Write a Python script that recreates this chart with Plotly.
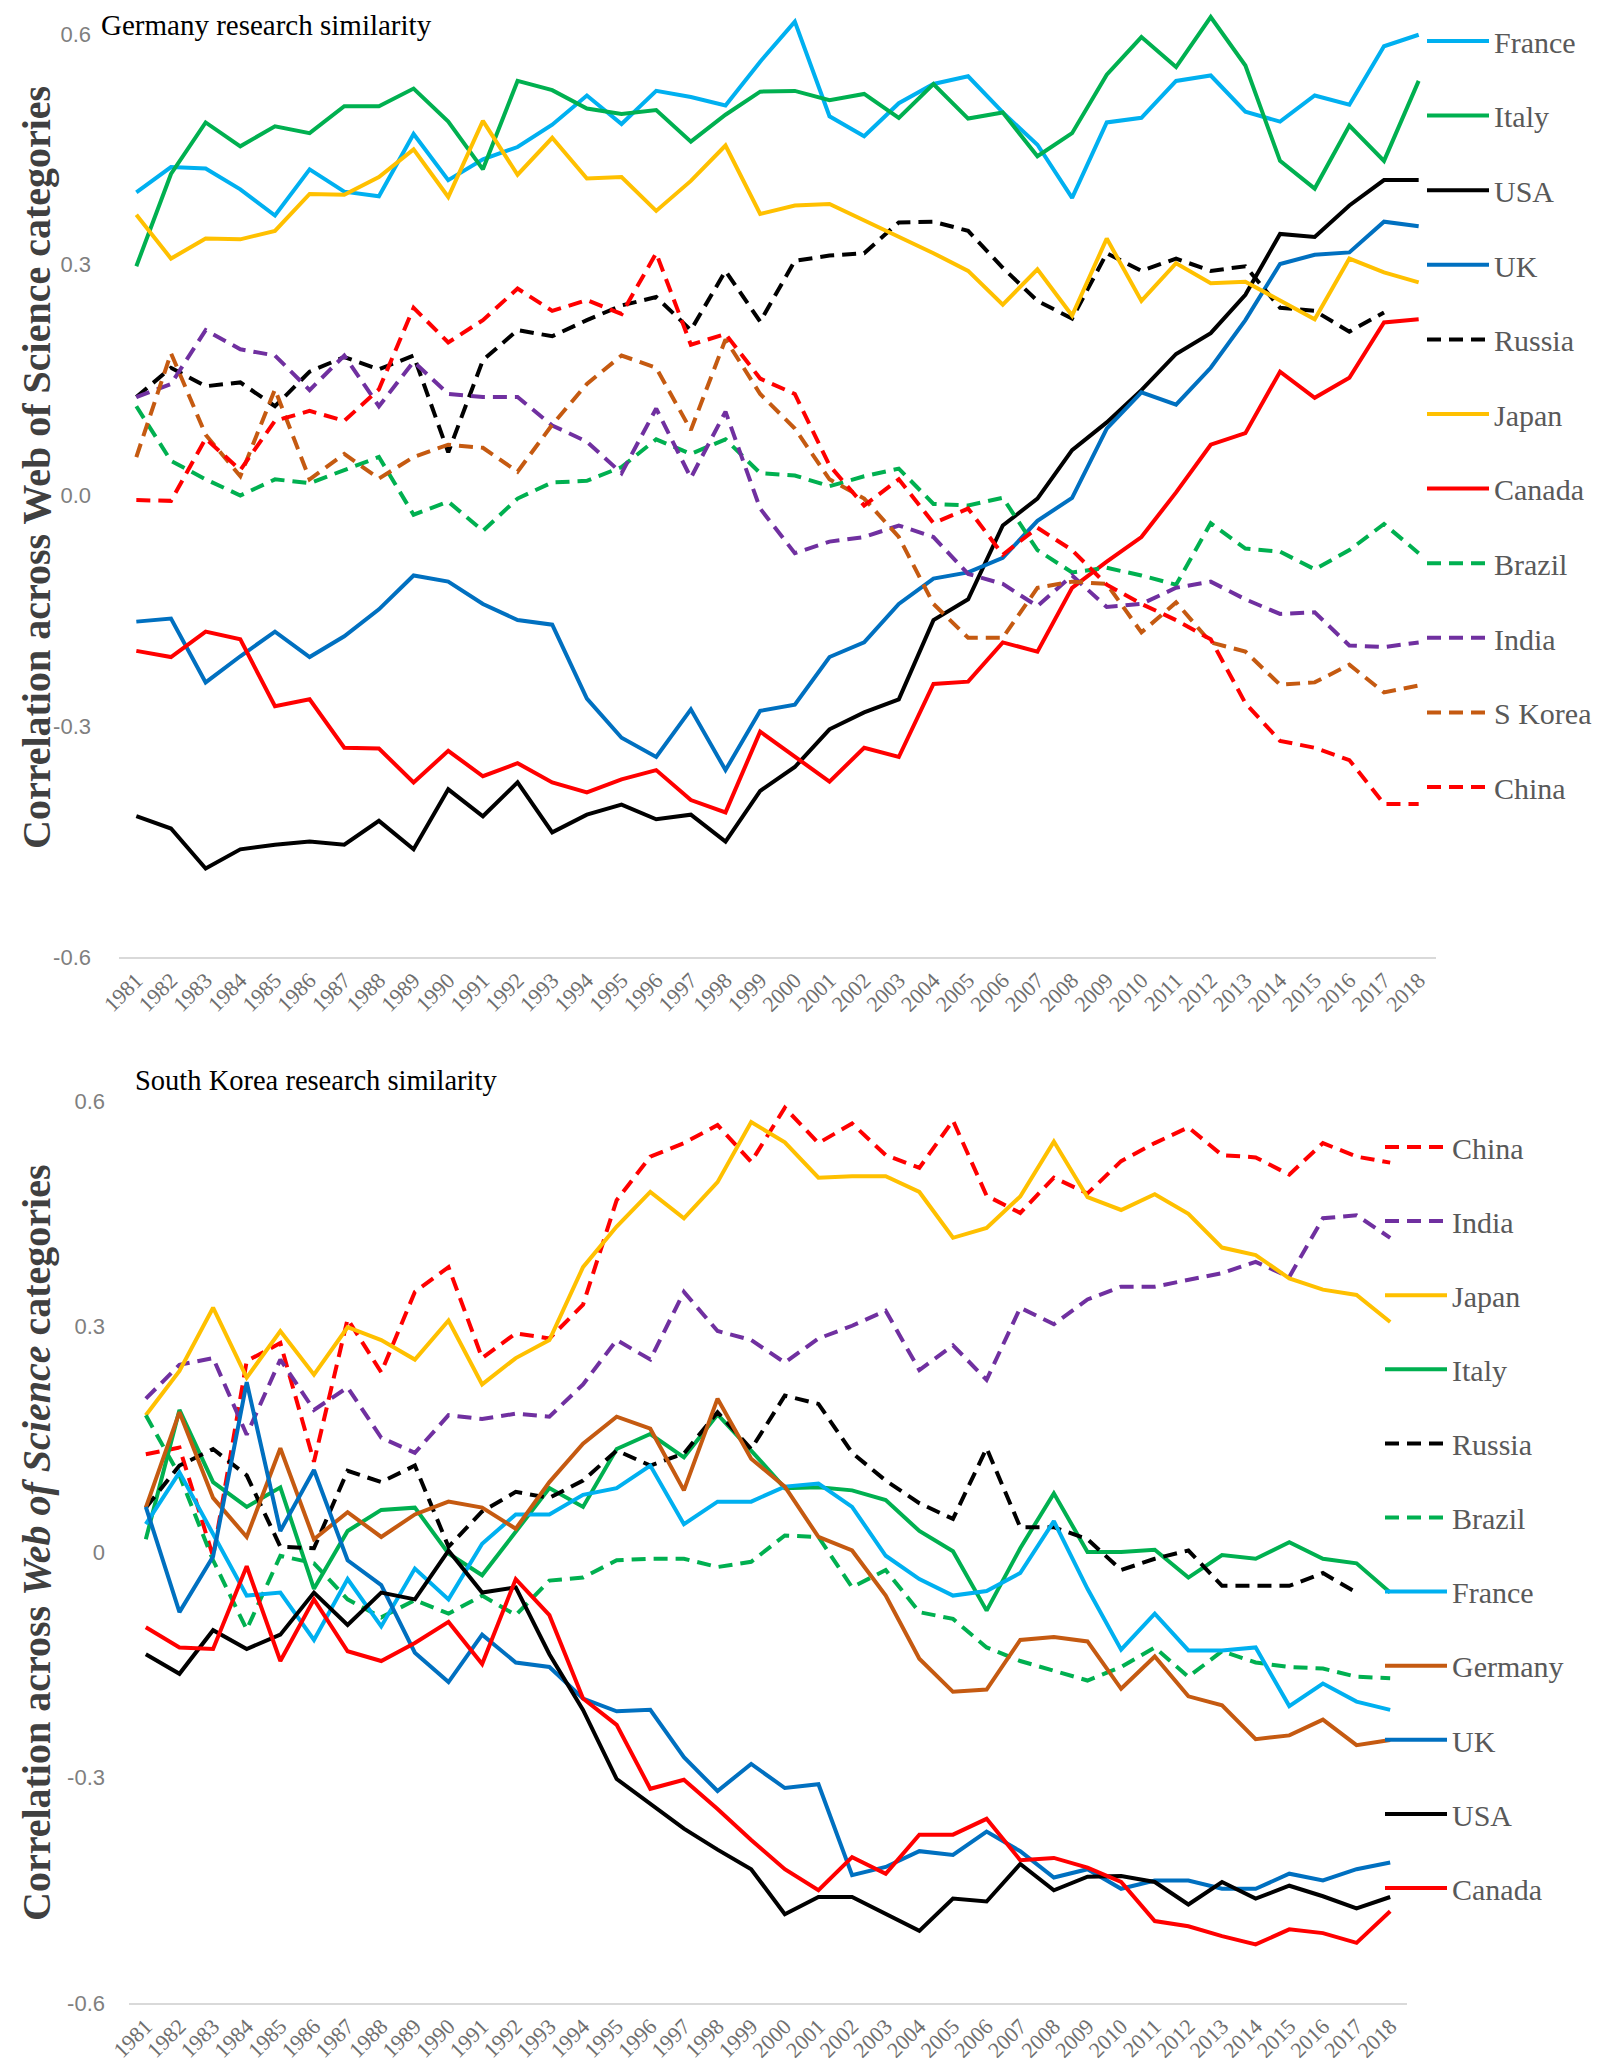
import plotly.graph_objects as go

years = list(range(1981, 2019))

# ---- Germany research similarity ----
g_names = ["France", "Italy", "USA", "UK", "Russia", "Japan", "Canada", "Brazil", "India", "S Korea", "China"]
g_france = [0.394,0.427,0.425,0.398,0.364,0.424,0.395,0.389,0.470,0.410,0.437,0.453,0.482,0.520,0.483,0.526,0.518,0.507,0.564,0.616,0.493,0.467,0.510,0.535,0.545,0.498,0.456,0.387,0.485,0.491,0.539,0.546,0.499,0.486,0.520,0.508,0.584,0.599]
g_italy = [0.298,0.418,0.485,0.454,0.480,0.471,0.506,0.506,0.529,0.486,0.424,0.539,0.527,0.503,0.496,0.501,0.460,0.495,0.525,0.526,0.514,0.522,0.491,0.535,0.490,0.498,0.441,0.471,0.547,0.596,0.557,0.622,0.559,0.435,0.399,0.481,0.435,0.539]
g_usa = [-0.417,-0.433,-0.485,-0.460,-0.454,-0.450,-0.454,-0.423,-0.460,-0.382,-0.417,-0.373,-0.438,-0.415,-0.402,-0.421,-0.415,-0.450,-0.384,-0.353,-0.304,-0.282,-0.265,-0.162,-0.135,-0.039,-0.004,0.059,0.095,0.137,0.184,0.211,0.261,0.340,0.336,0.377,0.410,0.410]
g_uk = [-0.164,-0.160,-0.243,-0.209,-0.177,-0.210,-0.183,-0.148,-0.104,-0.112,-0.141,-0.162,-0.168,-0.264,-0.315,-0.340,-0.278,-0.357,-0.280,-0.272,-0.210,-0.191,-0.141,-0.108,-0.100,-0.081,-0.033,-0.003,0.087,0.134,0.118,0.166,0.228,0.301,0.313,0.316,0.356,0.350]
g_russia = [0.128,0.166,0.142,0.147,0.116,0.161,0.180,0.164,0.182,0.056,0.176,0.215,0.207,0.228,0.247,0.258,0.215,0.292,0.226,0.305,0.312,0.315,0.355,0.356,0.344,0.296,0.253,0.230,0.315,0.292,0.308,0.292,0.298,0.244,0.240,0.213,0.238,None]
g_japan = [0.365,0.308,0.334,0.333,0.344,0.392,0.391,0.414,0.450,0.388,0.487,0.417,0.465,0.412,0.414,0.370,0.409,0.455,0.366,0.377,0.379,0.358,0.336,0.315,0.292,0.248,0.294,0.234,0.334,0.253,0.302,0.276,0.278,0.254,0.229,0.308,0.290,0.277]
g_canada = [-0.202,-0.210,-0.177,-0.187,-0.274,-0.265,-0.328,-0.329,-0.373,-0.332,-0.365,-0.348,-0.373,-0.386,-0.369,-0.357,-0.396,-0.412,-0.307,-0.340,-0.372,-0.328,-0.340,-0.245,-0.242,-0.191,-0.203,-0.120,-0.086,-0.054,0.004,0.066,0.081,0.161,0.127,0.153,0.225,0.229]
g_brazil = [0.116,0.045,0.021,0.000,0.021,0.016,0.033,0.050,-0.025,-0.008,-0.046,-0.004,0.017,0.019,0.037,0.073,0.054,0.073,0.029,0.026,0.012,0.025,0.035,-0.011,-0.013,-0.003,-0.071,-0.100,-0.094,-0.104,-0.116,-0.036,-0.069,-0.073,-0.096,-0.071,-0.037,-0.075]
g_india = [0.128,0.145,0.215,0.190,0.182,0.137,0.182,0.116,0.174,0.132,0.128,0.128,0.091,0.070,0.029,0.113,0.023,0.109,-0.017,-0.075,-0.060,-0.054,-0.039,-0.054,-0.102,-0.115,-0.144,-0.104,-0.145,-0.141,-0.120,-0.112,-0.135,-0.154,-0.152,-0.195,-0.197,-0.191]
g_skorea = [0.050,0.185,0.079,0.025,0.138,0.021,0.054,0.022,0.050,0.066,0.062,0.031,0.092,0.145,0.182,0.166,0.085,0.203,0.132,0.087,0.021,-0.004,-0.054,-0.141,-0.185,-0.185,-0.120,-0.112,-0.115,-0.178,-0.139,-0.191,-0.203,-0.246,-0.243,-0.220,-0.256,-0.247]
g_china = [-0.006,-0.007,0.074,0.033,0.097,0.110,0.097,0.138,0.244,0.199,0.228,0.269,0.240,0.254,0.236,0.315,0.196,0.210,0.152,0.132,0.039,-0.013,0.021,-0.036,-0.017,-0.077,-0.042,-0.071,-0.116,-0.141,-0.162,-0.187,-0.270,-0.319,-0.328,-0.344,-0.401,-0.401]
g_values = [g_france, g_italy, g_usa, g_uk, g_russia, g_japan, g_canada, g_brazil, g_india, g_skorea, g_china]

# ---- South Korea research similarity ----
k_names = ["China", "India", "Japan", "Italy", "Russia", "Brazil", "France", "Germany", "UK", "USA", "Canada"]
k_china = [0.130,0.139,-0.006,0.254,0.278,0.120,0.310,0.239,0.346,0.379,0.258,0.291,0.284,0.329,0.468,0.526,0.544,0.568,0.519,0.591,0.544,0.570,0.528,0.511,0.574,0.474,0.451,0.498,0.477,0.520,0.544,0.565,0.528,0.525,0.502,0.544,0.526,0.518]
k_india = [0.204,0.249,0.258,0.156,0.256,0.189,0.219,0.152,0.132,0.182,0.177,0.184,0.180,0.223,0.282,0.256,0.346,0.294,0.282,0.252,0.284,0.301,0.321,0.242,0.275,0.229,0.325,0.303,0.336,0.353,0.353,0.362,0.371,0.386,0.366,0.444,0.448,0.418]
k_japan = [0.182,0.241,0.325,0.232,0.294,0.236,0.299,0.282,0.256,0.308,0.223,0.258,0.282,0.379,0.433,0.479,0.444,0.492,0.572,0.545,0.498,0.500,0.500,0.479,0.418,0.431,0.473,0.546,0.472,0.455,0.476,0.450,0.405,0.395,0.364,0.349,0.342,0.306]
k_italy = [0.017,0.189,0.093,0.060,0.086,-0.049,0.028,0.056,0.059,-0.002,-0.031,0.027,0.085,0.060,0.137,0.157,0.126,0.183,0.135,0.085,0.086,0.082,0.069,0.028,0.001,-0.078,0.005,0.078,0.000,0.000,0.003,-0.034,-0.004,-0.009,0.013,-0.009,-0.015,-0.054]
k_russia = [0.059,0.115,0.137,0.102,0.007,0.005,0.108,0.093,0.115,0.007,0.054,0.080,0.072,0.095,0.135,0.115,0.131,0.186,0.137,0.208,0.197,0.132,0.095,0.065,0.044,0.138,0.033,0.033,0.017,-0.024,-0.009,0.002,-0.045,-0.045,-0.045,-0.028,-0.054,None]
k_brazil = [0.182,0.102,-0.011,-0.103,-0.005,-0.015,-0.063,-0.087,-0.064,-0.082,-0.058,-0.084,-0.038,-0.034,-0.011,-0.009,-0.009,-0.020,-0.013,0.022,0.020,-0.047,-0.024,-0.080,-0.089,-0.127,-0.145,-0.158,-0.171,-0.153,-0.127,-0.166,-0.132,-0.147,-0.153,-0.155,-0.166,-0.168]
k_france = [0.037,0.106,0.024,-0.058,-0.054,-0.117,-0.036,-0.099,-0.022,-0.063,0.011,0.050,0.050,0.076,0.085,0.115,0.037,0.067,0.067,0.087,0.091,0.060,-0.005,-0.036,-0.058,-0.052,-0.028,0.041,-0.049,-0.130,-0.082,-0.131,-0.131,-0.127,-0.205,-0.175,-0.199,-0.210]
k_germany = [0.059,0.186,0.072,0.020,0.138,0.017,0.053,0.020,0.050,0.067,0.059,0.031,0.093,0.144,0.180,0.164,0.082,0.204,0.124,0.087,0.020,0.002,-0.058,-0.142,-0.186,-0.183,-0.117,-0.113,-0.119,-0.182,-0.139,-0.192,-0.204,-0.249,-0.244,-0.223,-0.257,-0.250]
k_uk = [0.060,-0.080,-0.006,0.226,0.028,0.109,-0.011,-0.044,-0.134,-0.173,-0.110,-0.147,-0.153,-0.195,-0.212,-0.210,-0.273,-0.318,-0.282,-0.314,-0.309,-0.430,-0.419,-0.398,-0.403,-0.372,-0.398,-0.433,-0.422,-0.448,-0.437,-0.437,-0.448,-0.448,-0.428,-0.437,-0.422,-0.413]
k_usa = [-0.136,-0.162,-0.104,-0.129,-0.110,-0.054,-0.097,-0.054,-0.063,0.002,-0.054,-0.047,-0.136,-0.210,-0.302,-0.335,-0.368,-0.396,-0.422,-0.482,-0.459,-0.459,-0.482,-0.504,-0.461,-0.465,-0.415,-0.450,-0.432,-0.431,-0.439,-0.469,-0.439,-0.461,-0.444,-0.458,-0.474,-0.459]
k_canada = [-0.100,-0.127,-0.129,-0.019,-0.145,-0.063,-0.132,-0.145,-0.121,-0.093,-0.149,-0.036,-0.084,-0.195,-0.230,-0.315,-0.303,-0.342,-0.383,-0.422,-0.450,-0.406,-0.428,-0.376,-0.376,-0.355,-0.410,-0.407,-0.420,-0.439,-0.491,-0.498,-0.511,-0.522,-0.502,-0.507,-0.520,-0.478]
k_values = [k_china, k_india, k_japan, k_italy, k_russia, k_brazil, k_france, k_germany, k_uk, k_usa, k_canada]

y_tickvals = [-0.6, -0.3, 0.0, 0.3, 0.6]
g_ticktext = ["-0.6", "-0.3", "0.0", "0.3", "0.6"]
k_ticktext = ["-0.6", "-0.3", "0", "0.3", "0.6"]

# styles (colour, dashed?)
style = {
    "France": ("#00B0F0", False), "Italy": ("#00B050", False), "USA": ("#000000", False),
    "UK": ("#0070C0", False), "Russia": ("#000000", True), "Japan": ("#FFC000", False),
    "Canada": ("#FF0000", False), "Brazil": ("#00B050", True), "India": ("#7030A0", True),
    "S Korea": ("#C55A11", True), "Germany": ("#C55A11", False), "China": ("#FF0000", True),
}
DASH = "14px,8px"
LW = 4

fig = go.Figure()

for i, (name, vals) in enumerate(zip(g_names, g_values)):
    col, dashed = style[name]
    fig.add_trace(go.Scatter(
        x=years, y=vals, mode="lines", name=name, xaxis="x", yaxis="y",
        line=dict(color=col, width=LW, dash=DASH if dashed else "solid"),
        legend="legend", legendgroup="g" + str(i), connectgaps=False))

for i, (name, vals) in enumerate(zip(k_names, k_values)):
    col, dashed = style[name]
    fig.add_trace(go.Scatter(
        x=years, y=vals, mode="lines", name=name, xaxis="x2", yaxis="y2",
        line=dict(color=col, width=LW, dash=DASH if dashed else "solid"),
        legend="legend2", legendgroup="k" + str(i), connectgaps=False))

H = 2072.0
W = 1603.0

def px_y(p):
    return (H - p) / H

def px_x(p):
    return p / W

tick_font = dict(family="Liberation Sans, Arial", size=22, color="#7F7F7F")
year_font = dict(family="Liberation Serif, Times New Roman", size=22, color="#6E6E6E")

xaxis_common = dict(
    tickmode="array", tickvals=years, ticktext=[str(y) for y in years],
    tickangle=-45, tickfont=year_font, showgrid=False, zeroline=False,
    showline=True, linecolor="#D9D9D9", linewidth=1.5, ticks="", range=[1980.5, 2018.5],
    automargin=False,
)
yaxis_common = dict(
    tickmode="array", tickvals=y_tickvals, showgrid=False, zeroline=False,
    showline=False, ticks="", tickfont=tick_font, automargin=False,
)

legend_common = dict(
    font=dict(family="Liberation Serif, Times New Roman", size=30, color="#595959"),
    bgcolor="rgba(0,0,0,0)", borderwidth=0, itemwidth=62,
    xanchor="left", yanchor="top", traceorder="grouped",
    itemclick=False, itemdoubleclick=False,
)

fig.update_layout(
    width=1603, height=2072,
    margin=dict(l=0, r=0, t=0, b=0, autoexpand=False),
    paper_bgcolor="white", plot_bgcolor="white",
    showlegend=True,
    xaxis=dict(xaxis_common, domain=[px_x(111), px_x(1428)], anchor="y"),
    yaxis=dict(yaxis_common, domain=[px_y(949), px_y(2.9)], range=[-0.6, 0.63],
               ticktext=g_ticktext, anchor="x", ticklabelstandoff=27),
    xaxis2=dict(xaxis_common, domain=[px_x(121), px_x(1399)], anchor="y2"),
    yaxis2=dict(yaxis_common, domain=[px_y(1995), px_y(1093)], range=[-0.6, 0.6],
                ticktext=k_ticktext, anchor="x2", ticklabelstandoff=23),
    legend=dict(legend_common, x=px_x(1414), y=px_y(7), tracegroupgap=32.6),
    legend2=dict(legend_common, x=px_x(1372), y=px_y(1113), tracegroupgap=32.1),
    annotations=[
        dict(text="Germany research similarity", x=px_x(92), y=1.0, xref="paper", yref="paper",
             xanchor="left", yanchor="top", showarrow=False, borderpad=0,
             font=dict(family="Liberation Serif, Times New Roman", size=29, color="#000000")),
        dict(text="South Korea research similarity", x=px_x(125), y=px_y(1073), xref="paper", yref="paper",
             xanchor="left", yanchor="middle", showarrow=False,
             font=dict(family="Liberation Serif, Times New Roman", size=28.5, color="#000000")),
        dict(text="<b>Correlation across Web of Science categories</b>", x=px_x(28), y=px_y(460),
             xref="paper", yref="paper", xanchor="center", yanchor="middle", textangle=-90, showarrow=False,
             font=dict(family="Liberation Serif, Times New Roman", size=40, color="#404040")),
        dict(text="<b>Correlation across <i>Web of Science</i> categories</b>", x=px_x(28), y=px_y(1535),
             xref="paper", yref="paper", xanchor="center", yanchor="middle", textangle=-90, showarrow=False,
             font=dict(family="Liberation Serif, Times New Roman", size=40, color="#404040")),
    ],
)

fig.write_html("out.html")
